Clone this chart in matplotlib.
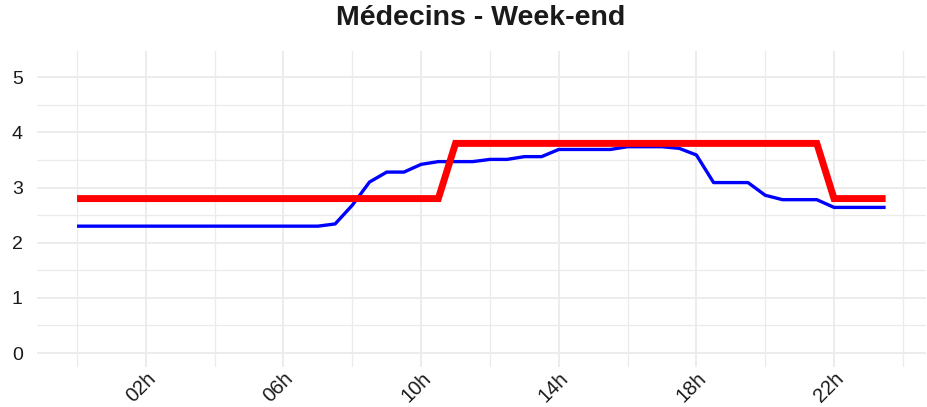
import numpy as np
import matplotlib
matplotlib.use("Agg")
import matplotlib.pyplot as plt
from matplotlib.ticker import MultipleLocator

# half-hour slots, 00h00 -> 23h30
hours = np.arange(0, 24, 0.5)

# blue series (observed)
observed = [2.30] * 15 + [
    2.34, 2.68, 3.10, 3.28, 3.28, 3.42, 3.47, 3.47, 3.47, 3.51, 3.51,
    3.56, 3.56, 3.69, 3.69, 3.69, 3.69, 3.74, 3.74, 3.74, 3.71, 3.59,
    3.09, 3.09, 3.09, 2.86, 2.78, 2.78, 2.78, 2.64, 2.64, 2.64, 2.64,
]

# red series (staffing target)
target = [2.8] * 22 + [3.8] * 22 + [2.8] * 4

tick_hours = [2, 6, 10, 14, 18, 22]
tick_labels = ["02h", "06h", "10h", "14h", "18h", "22h"]
title = "Médecins - Week-end"

plt.rcParams["font.family"] = ["Liberation Sans", "DejaVu Sans"]

fig = plt.figure(figsize=(9.27, 4.07), dpi=100)
ax = fig.add_axes([0.0395, 0.0973, 0.9595, 0.7781])

ax.plot(hours, observed, color="#0000FF", lw=2.4, solid_joinstyle="round",
        solid_capstyle="butt", zorder=3)
ax.plot(hours, target, color="#FF0000", lw=5.0, solid_joinstyle="miter",
        solid_capstyle="butt", zorder=4)

ax.set_xlim(-1.175, 24.675)
ax.set_ylim(-0.26, 5.48)

ax.set_xticks(tick_hours)
ax.set_xticklabels(tick_labels)
ax.xaxis.set_minor_locator(MultipleLocator(4))
ax.set_yticks(range(6))
ax.yaxis.set_minor_locator(MultipleLocator(0.5))

ax.grid(which="major", color="#EBEBEB", lw=1.3, zorder=0)
ax.grid(which="minor", color="#EBEBEB", lw=0.9, zorder=0)
ax.set_axisbelow(True)

for s in ax.spines.values():
    s.set_visible(False)
ax.tick_params(which="both", length=0)
ax.tick_params(axis="y", labelsize=14, labelcolor="#1A1A1A", pad=10)
ax.tick_params(axis="x", labelsize=14.5, labelcolor="#1A1A1A", pad=1)
for lab in ax.get_xticklabels():
    lab.set_rotation(45)
    lab.set_ha("right")
    lab.set_rotation_mode("anchor")

fig.text(0.519, 0.957, title, ha="center", va="center",
         fontsize=20.5, fontweight="bold", color="#1A1A1A")

fig.savefig("out.png", dpi=100)
